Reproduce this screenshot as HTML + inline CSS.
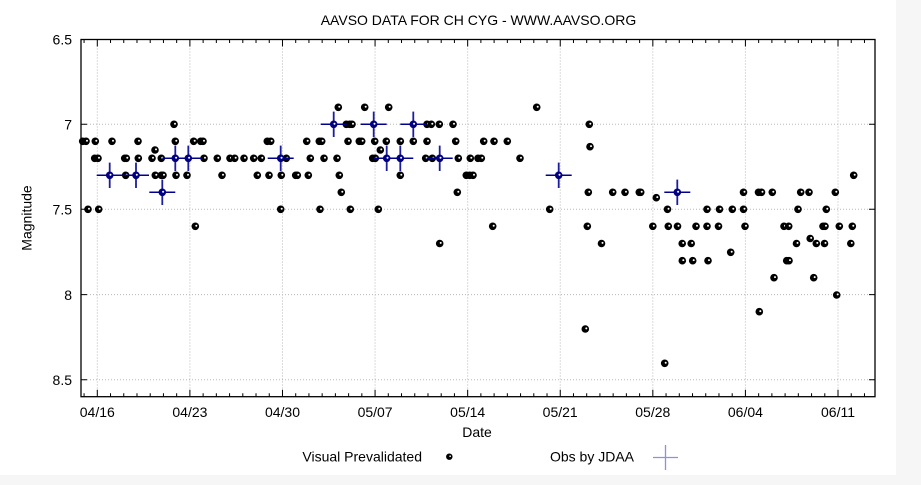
<!DOCTYPE html>
<html><head><meta charset="utf-8"><style>
html,body{margin:0;padding:0;background:#f6f6f6;}
svg{display:block;}
text{font-family:"Liberation Sans",Arial,sans-serif;font-size:14px;fill:#000;}
</style></head><body>
<svg width="921" height="485" viewBox="0 0 921 485" xmlns="http://www.w3.org/2000/svg">
<defs>
<g id="m"><circle r="3.8" fill="#000"/><circle cx="1.0" cy="-0.6" r="1.0" fill="#fff"/></g>
<g id="b"><circle r="3.8" fill="#000080"/><circle cx="0.8" cy="-0.5" r="1.0" fill="#fff"/></g>
<g id="c"><line x1="-13" y1="0" x2="13" y2="0" stroke="#00008c" stroke-width="1.5"/><line x1="0" y1="-12.7" x2="0" y2="12.7" stroke="#1c1ca0" stroke-width="1.8"/></g>
</defs>
<rect x="0" y="0" width="921" height="485" fill="#f6f6f6"/>
<rect x="0" y="0" width="896" height="475" fill="#fff"/>

<text x="478.5" y="25" text-anchor="middle">AAVSO DATA FOR CH CYG - WWW.AAVSO.ORG</text>

<!-- grid -->
<g stroke="#b8b8b8" stroke-width="1" stroke-dasharray="1,2" fill="none">
<path d="M81 124.3H875M81 209.3H875M81 294.6H875M81 379.8H875"/>
<path d="M97.3 39.5V396.7M189.89 39.5V396.7M282.48 39.5V396.7M375.07 39.5V396.7M467.66 39.5V396.7M560.25 39.5V396.7M652.83 39.5V396.7M745.42 39.5V396.7M838.01 39.5V396.7"/>
</g>

<!-- ticks -->
<g stroke="#000" stroke-width="1" fill="none">
<path d="M81 39.5h6M81 124.3h6M81 209.3h6M81 294.6h6M81 379.8h6M875 39.5h-6M875 124.3h-6M875 209.3h-6M875 294.6h-6M875 379.8h-6"/>
<path d="M97.3 396.7v-7M189.89 396.7v-7M282.48 396.7v-7M375.07 396.7v-7M467.66 396.7v-7M560.25 396.7v-7M652.83 396.7v-7M745.42 396.7v-7M838.01 396.7v-7M97.3 39.5v7M189.89 39.5v7M282.48 39.5v7M375.07 39.5v7M467.66 39.5v7M560.25 39.5v7M652.83 39.5v7M745.42 39.5v7M838.01 39.5v7"/>
<path d="M84.07 396.7v-3.5M110.53 396.7v-3.5M123.75 396.7v-3.5M136.98 396.7v-3.5M150.21 396.7v-3.5M163.44 396.7v-3.5M176.66 396.7v-3.5M203.12 396.7v-3.5M216.34 396.7v-3.5M229.57 396.7v-3.5M242.8 396.7v-3.5M256.02 396.7v-3.5M269.25 396.7v-3.5M295.71 396.7v-3.5M308.93 396.7v-3.5M322.16 396.7v-3.5M335.39 396.7v-3.5M348.61 396.7v-3.5M361.84 396.7v-3.5M388.29 396.7v-3.5M401.52 396.7v-3.5M414.75 396.7v-3.5M427.98 396.7v-3.5M441.2 396.7v-3.5M454.43 396.7v-3.5M480.88 396.7v-3.5M494.11 396.7v-3.5M507.34 396.7v-3.5M520.56 396.7v-3.5M533.79 396.7v-3.5M547.02 396.7v-3.5M573.47 396.7v-3.5M586.7 396.7v-3.5M599.93 396.7v-3.5M613.15 396.7v-3.5M626.38 396.7v-3.5M639.61 396.7v-3.5M666.06 396.7v-3.5M679.29 396.7v-3.5M692.52 396.7v-3.5M705.74 396.7v-3.5M718.97 396.7v-3.5M732.2 396.7v-3.5M758.65 396.7v-3.5M771.88 396.7v-3.5M785.1 396.7v-3.5M798.33 396.7v-3.5M811.56 396.7v-3.5M824.79 396.7v-3.5M851.24 396.7v-3.5M864.47 396.7v-3.5"/>
<path d="M84.07 39.5v3.5M110.53 39.5v3.5M123.75 39.5v3.5M136.98 39.5v3.5M150.21 39.5v3.5M163.44 39.5v3.5M176.66 39.5v3.5M203.12 39.5v3.5M216.34 39.5v3.5M229.57 39.5v3.5M242.8 39.5v3.5M256.02 39.5v3.5M269.25 39.5v3.5M295.71 39.5v3.5M308.93 39.5v3.5M322.16 39.5v3.5M335.39 39.5v3.5M348.61 39.5v3.5M361.84 39.5v3.5M388.29 39.5v3.5M401.52 39.5v3.5M414.75 39.5v3.5M427.98 39.5v3.5M441.2 39.5v3.5M454.43 39.5v3.5M480.88 39.5v3.5M494.11 39.5v3.5M507.34 39.5v3.5M520.56 39.5v3.5M533.79 39.5v3.5M547.02 39.5v3.5M573.47 39.5v3.5M586.7 39.5v3.5M599.93 39.5v3.5M613.15 39.5v3.5M626.38 39.5v3.5M639.61 39.5v3.5M666.06 39.5v3.5M679.29 39.5v3.5M692.52 39.5v3.5M705.74 39.5v3.5M718.97 39.5v3.5M732.2 39.5v3.5M758.65 39.5v3.5M771.88 39.5v3.5M785.1 39.5v3.5M798.33 39.5v3.5M811.56 39.5v3.5M824.79 39.5v3.5M851.24 39.5v3.5M864.47 39.5v3.5"/>
</g>

<!-- y labels -->
<g text-anchor="end">
<text x="72" y="44.5">6.5</text>
<text x="72" y="129.5">7</text>
<text x="72" y="214.5">7.5</text>
<text x="72" y="299.8">8</text>
<text x="72" y="385">8.5</text>
</g>
<text transform="translate(31.5,218) rotate(-90)" text-anchor="middle">Magnitude</text>

<!-- x labels -->
<g text-anchor="middle">
<text x="97.3" y="417">04/16</text>
<text x="189.9" y="417">04/23</text>
<text x="282.5" y="417">04/30</text>
<text x="375.1" y="417">05/07</text>
<text x="467.7" y="417">05/14</text>
<text x="560.2" y="417">05/21</text>
<text x="652.8" y="417">05/28</text>
<text x="745.4" y="417">06/04</text>
<text x="838" y="417">06/11</text>
</g>
<text x="477" y="437" text-anchor="middle">Date</text>

<!-- black points -->
<g>
<use href="#m" x="338.3" y="107.3"/><use href="#m" x="364.7" y="107.3"/><use href="#m" x="388.7" y="107.3"/><use href="#m" x="536.7" y="107.3"/>
<use href="#m" x="174" y="124.3"/><use href="#m" x="346.3" y="124.3"/><use href="#m" x="349.7" y="124.3"/><use href="#m" x="352" y="124.3"/><use href="#m" x="427" y="124.3"/><use href="#m" x="431.3" y="124.3"/><use href="#m" x="439.3" y="124.3"/><use href="#m" x="453" y="124.3"/><use href="#m" x="589.3" y="124.3"/>
<use href="#m" x="82.7" y="141.3"/><use href="#m" x="86" y="141.3"/><use href="#m" x="95.3" y="141.3"/><use href="#m" x="112" y="141.3"/><use href="#m" x="138" y="141.3"/><use href="#m" x="175.3" y="141.3"/><use href="#m" x="193.7" y="141.3"/><use href="#m" x="200.7" y="141.3"/><use href="#m" x="203" y="141.3"/><use href="#m" x="267.3" y="141.3"/><use href="#m" x="270.7" y="141.3"/><use href="#m" x="306.7" y="141.3"/><use href="#m" x="319.3" y="141.3"/><use href="#m" x="321.7" y="141.3"/><use href="#m" x="348" y="141.3"/><use href="#m" x="359.3" y="141.3"/><use href="#m" x="361.7" y="141.3"/><use href="#m" x="374.7" y="141.3"/><use href="#m" x="386.3" y="141.3"/><use href="#m" x="400.3" y="141.3"/><use href="#m" x="413.3" y="141.3"/><use href="#m" x="427" y="141.3"/><use href="#m" x="455.7" y="141.3"/><use href="#m" x="483.7" y="141.3"/><use href="#m" x="494" y="141.3"/><use href="#m" x="507.3" y="141.3"/>
<use href="#m" x="590" y="146.7"/>
<use href="#m" x="155" y="150"/><use href="#m" x="380.3" y="150"/>
<use href="#m" x="94.7" y="158.3"/><use href="#m" x="98" y="158.3"/><use href="#m" x="124.7" y="158.3"/><use href="#m" x="126.3" y="158.3"/><use href="#m" x="138.3" y="158.3"/><use href="#m" x="152" y="158.3"/><use href="#m" x="161.3" y="158.3"/><use href="#m" x="204" y="158.3"/><use href="#m" x="217.3" y="158.3"/><use href="#m" x="230" y="158.3"/><use href="#m" x="234.7" y="158.3"/><use href="#m" x="244" y="158.3"/><use href="#m" x="253.7" y="158.3"/><use href="#m" x="261.3" y="158.3"/><use href="#m" x="286.3" y="158.3"/><use href="#m" x="310.3" y="158.3"/><use href="#m" x="324" y="158.3"/><use href="#m" x="337" y="158.3"/><use href="#m" x="372.7" y="158.3"/><use href="#m" x="375.3" y="158.3"/><use href="#m" x="425.7" y="158.3"/><use href="#m" x="432.3" y="158.3"/><use href="#m" x="458.3" y="158.3"/><use href="#m" x="470.3" y="158.3"/><use href="#m" x="478" y="158.3"/><use href="#m" x="481.3" y="158.3"/><use href="#m" x="520" y="158.3"/>
<use href="#m" x="125.7" y="175.3"/><use href="#m" x="155.3" y="175.3"/><use href="#m" x="161.3" y="175.3"/><use href="#m" x="163" y="175.3"/><use href="#m" x="176" y="175.3"/><use href="#m" x="187" y="175.3"/><use href="#m" x="222" y="175.3"/><use href="#m" x="257.3" y="175.3"/><use href="#m" x="269" y="175.3"/><use href="#m" x="281.3" y="175.3"/><use href="#m" x="295.7" y="175.3"/><use href="#m" x="297.3" y="175.3"/><use href="#m" x="308.3" y="175.3"/><use href="#m" x="339.3" y="175.3"/><use href="#m" x="400.3" y="175.3"/><use href="#m" x="466.3" y="175.3"/><use href="#m" x="469.7" y="175.3"/><use href="#m" x="473" y="175.3"/><use href="#m" x="853.7" y="175.3"/>
<use href="#m" x="341.3" y="192.3"/><use href="#m" x="457.3" y="192.3"/><use href="#m" x="588.3" y="192.3"/><use href="#m" x="612.7" y="192.3"/><use href="#m" x="625" y="192.3"/><use href="#m" x="639.3" y="192.3"/><use href="#m" x="640.7" y="192.3"/><use href="#m" x="743.5" y="192.3"/><use href="#m" x="758.5" y="192.3"/><use href="#m" x="761.5" y="192.3"/><use href="#m" x="772.3" y="192.3"/><use href="#m" x="800.7" y="192.3"/><use href="#m" x="809" y="192.3"/><use href="#m" x="835.3" y="192.3"/>
<use href="#m" x="656.3" y="197.7"/>
<use href="#m" x="88" y="209.3"/><use href="#m" x="98.7" y="209.3"/><use href="#m" x="280.7" y="209.3"/><use href="#m" x="320" y="209.3"/><use href="#m" x="350.3" y="209.3"/><use href="#m" x="378.3" y="209.3"/><use href="#m" x="549.7" y="209.3"/><use href="#m" x="667.5" y="209.3"/><use href="#m" x="707" y="209.3"/><use href="#m" x="719.5" y="209.3"/><use href="#m" x="732.3" y="209.3"/><use href="#m" x="743.5" y="209.3"/><use href="#m" x="798" y="209.3"/><use href="#m" x="826.3" y="209.3"/>
<use href="#m" x="195.3" y="226.3"/><use href="#m" x="492.7" y="226.3"/><use href="#m" x="587.3" y="226.3"/><use href="#m" x="652.8" y="226.3"/><use href="#m" x="668.3" y="226.3"/><use href="#m" x="677.5" y="226.3"/><use href="#m" x="696" y="226.3"/><use href="#m" x="707" y="226.3"/><use href="#m" x="718.5" y="226.3"/><use href="#m" x="745" y="226.3"/><use href="#m" x="784" y="226.3"/><use href="#m" x="788.7" y="226.3"/><use href="#m" x="823" y="226.3"/><use href="#m" x="825" y="226.3"/><use href="#m" x="839.3" y="226.3"/><use href="#m" x="852.3" y="226.3"/>
<use href="#m" x="810.2" y="238.5"/>
<use href="#m" x="439.7" y="243.5"/><use href="#m" x="601.5" y="243.5"/><use href="#m" x="682.2" y="243.5"/><use href="#m" x="691.2" y="243.5"/><use href="#m" x="796.5" y="243.5"/><use href="#m" x="816.3" y="243.5"/><use href="#m" x="824.5" y="243.5"/><use href="#m" x="850.8" y="243.5"/>
<use href="#m" x="730.7" y="252.3"/>
<use href="#m" x="682.3" y="260.7"/><use href="#m" x="692.7" y="260.7"/><use href="#m" x="708" y="260.7"/><use href="#m" x="786.7" y="260.7"/><use href="#m" x="789" y="260.7"/>
<use href="#m" x="774" y="277.7"/><use href="#m" x="813.7" y="277.7"/>
<use href="#m" x="836.7" y="295"/>
<use href="#m" x="759.3" y="311.7"/>
<use href="#m" x="585.3" y="329"/>
<use href="#m" x="664.7" y="363.3"/>
</g>

<!-- blue crosses -->
<g>
<use href="#c" x="109.7" y="175.3"/><use href="#c" x="136" y="175.3"/><use href="#c" x="162.3" y="192.3"/><use href="#c" x="175.3" y="158.3"/><use href="#c" x="188.3" y="158.3"/><use href="#c" x="280.7" y="158.3"/><use href="#c" x="333.7" y="124.3"/><use href="#c" x="373.7" y="124.3"/><use href="#c" x="413.3" y="124.3"/><use href="#c" x="386.7" y="158.3"/><use href="#c" x="400.3" y="158.3"/><use href="#c" x="439.7" y="158.3"/><use href="#c" x="558.7" y="175.3"/><use href="#c" x="677.3" y="192.3"/>
<use href="#b" x="109.7" y="175.3"/><use href="#b" x="136" y="175.3"/><use href="#b" x="162.3" y="192.3"/><use href="#b" x="175.3" y="158.3"/><use href="#b" x="188.3" y="158.3"/><use href="#b" x="280.7" y="158.3"/><use href="#b" x="333.7" y="124.3"/><use href="#b" x="373.7" y="124.3"/><use href="#b" x="413.3" y="124.3"/><use href="#b" x="386.7" y="158.3"/><use href="#b" x="400.3" y="158.3"/><use href="#b" x="439.7" y="158.3"/><use href="#b" x="558.7" y="175.3"/><use href="#b" x="677.3" y="192.3"/>
</g>

<!-- border -->
<rect x="81" y="39.5" width="794" height="357.2" fill="none" stroke="#000" stroke-width="1.3"/>

<!-- legend -->
<text x="422" y="461.5" text-anchor="end">Visual Prevalidated</text>
<g transform="translate(449.3,456.7) scale(0.85)"><circle r="3.8" fill="#000"/><circle cx="1.0" cy="-0.6" r="1.0" fill="#fff"/></g>
<text x="634" y="461.5" text-anchor="end">Obs by JDAA</text>
<path d="M653 457.5H678M665.5 445V470" stroke="#8f8fe0" stroke-width="1.3" fill="none"/>
</svg>
</body></html>
